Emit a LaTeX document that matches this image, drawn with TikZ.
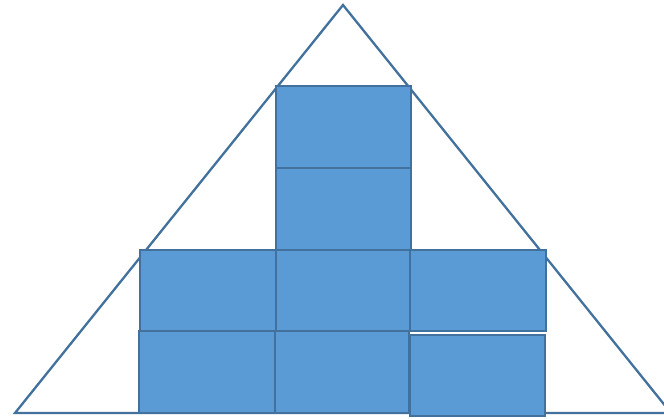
\documentclass[tikz,border=0pt]{standalone}
\definecolor{boxfill}{HTML}{5B9BD5}
\definecolor{boxline}{HTML}{41719C}
\tikzset{
  blk/.style={draw=boxline, fill=boxfill, line width=2.8pt},
  tri/.style={draw=boxline, line width=2.3pt, line join=miter}
}
\begin{document}
\begin{tikzpicture}[x=1pt,y=-1pt]
\useasboundingbox (0,0) rectangle (664,418);
\begin{scope}
\clip (0,0) rectangle (664,418);
\draw[tri] (343,5) -- (15,413) -- (671,413) -- cycle;
\end{scope}
% column centre
\draw[blk] (276,86) rectangle (411,168);
\draw[blk] (276,168) rectangle (411,250);
\draw[blk] (276,250) rectangle (410,331);
\draw[blk] (275,331) rectangle (409,413);
% left
\draw[blk] (140,250) rectangle (276,331);
\draw[blk] (139,331) rectangle (275,413);
% right
\draw[blk] (410,250) rectangle (546,331);
\draw[blk] (410,335) rectangle (545,416);
\end{tikzpicture}
\end{document}
